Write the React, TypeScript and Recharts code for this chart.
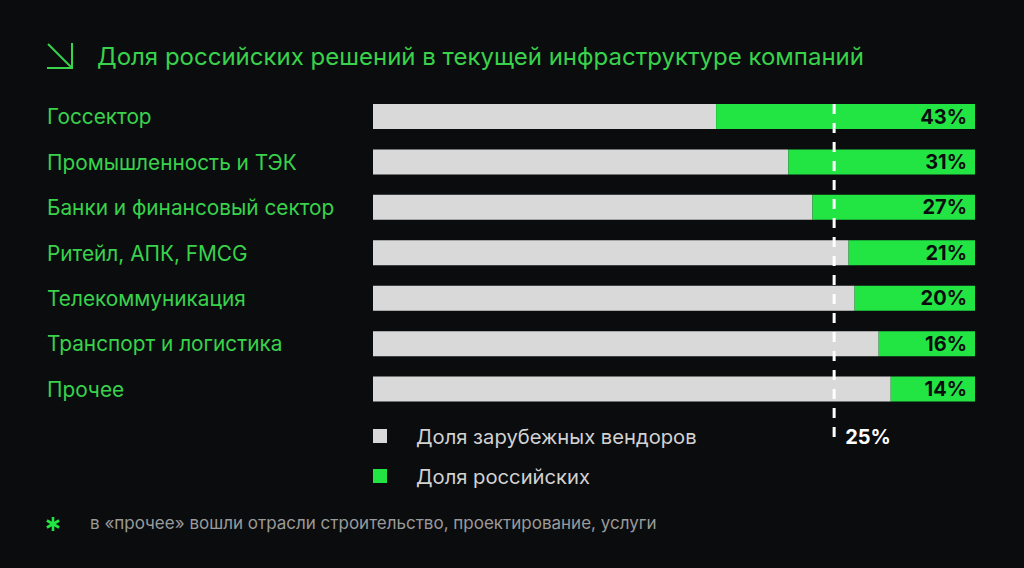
import { Bar, BarChart, LabelList, Legend, ReferenceLine, XAxis, YAxis } from "recharts";

const categories = [
  "Госсектор",
  "Промышленность и ТЭК",
  "Банки и финансовый сектор",
  "Ритейл, АПК, FMCG",
  "Телекоммуникация",
  "Транспорт и логистика",
  "Прочее",
];
const russianShare = [43, 31, 27, 21, 20, 16, 14];
const foreignShare = [57, 69, 73, 79, 80, 84, 86];

const seriesNames = ["Доля зарубежных вендоров", "Доля российских"];
const benchmarkLabel = "25%";
// where the dashed line sits on the foreign-share axis
const benchmarkPos = 76.6;

const title = "Доля российских решений в текущей инфраструктуре компаний";
const footnote = "в «прочее» вошли отрасли строительство, проектирование, услуги";

const BG = "#0b0c0e";
const GREY = "#d9d9d9";
const GREEN = "#22e544";
const TEXT_GREEN = "#39d24b";
const FONT = "Inter, 'Noto Sans', sans-serif";

const data = categories.map((name, i) => ({
  name,
  foreign: foreignShare[i],
  russian: russianShare[i],
}));

function CategoryTick({ y, payload }: { y?: number; payload?: { value: string } }) {
  return (
    <text x={47} y={y} dominantBaseline="central" fill={TEXT_GREEN} fontSize={20.8} fontFamily={FONT}>
      {payload?.value}
    </text>
  );
}

function BenchmarkLine(props: { x1?: number; y1?: number; x2?: number; y2?: number }) {
  const { x1 = 0, y1 = 0, y2 = 0 } = props;
  const top = Math.min(y1, y2);
  const bottom = Math.max(y1, y2);
  return (
    <g>
      <line x1={x1} x2={x1} y1={top + 10} y2={bottom + 31} stroke="#ffffff" strokeWidth={3} strokeDasharray="10 9" />
      <text x={x1 + 11} y={bottom + 25} dominantBaseline="central" fill="#ffffff" fontSize={20} fontWeight={700} fontFamily={FONT}>
        {benchmarkLabel}
      </text>
    </g>
  );
}

function LegendBox() {
  const colors = [GREY, GREEN];
  return (
    <div style={{ fontFamily: FONT }}>
      {seriesNames.map((s, i) => (
        <div key={s} style={{ display: "flex", alignItems: "center", height: 40 }}>
          <span style={{ width: 14, height: 14, background: colors[i], display: "inline-block" }} />
          <span style={{ marginLeft: 29, color: "#d2d2d2", fontSize: 20.2 }}>{s}</span>
        </div>
      ))}
    </div>
  );
}

export default function App() {
  return (
    <div style={{ position: "absolute", left: 0, top: 0, width: 1024, height: 568, background: BG, fontFamily: FONT }}>
      <svg width={32} height={32} style={{ position: "absolute", left: 44, top: 40 }}>
        <path d="M4 4 L27 27 M28 3 L28 28 L3 28" stroke={TEXT_GREEN} strokeWidth={2} fill="none" />
      </svg>
      <div style={{ position: "absolute", left: 97, top: 40, color: TEXT_GREEN, fontSize: 24, lineHeight: "34px" }}>
        {title}
      </div>
      <BarChart
        width={1024}
        height={568}
        data={data}
        layout="vertical"
        barSize={25}
        margin={{ top: 94, right: 49, bottom: 76, left: 47 }}
      >
        <XAxis type="number" domain={[0, 100]} hide />
        <YAxis type="category" dataKey="name" width={326} axisLine={false} tickLine={false} tick={<CategoryTick />} />
        <Bar dataKey="foreign" name={seriesNames[0]} stackId="a" fill={GREY} isAnimationActive={false} />
        <Bar dataKey="russian" name={seriesNames[1]} stackId="a" fill={GREEN} isAnimationActive={false}>
          <LabelList
            dataKey="russian"
            position="insideRight"
            offset={8}
            formatter={(v: number) => `${v}%`}
            fill="#0b0c0e"
            fontSize={20}
            fontWeight={700}
            fontFamily={FONT}
          />
        </Bar>
        <ReferenceLine x={benchmarkPos} shape={<BenchmarkLine />} />
        <Legend content={<LegendBox />} wrapperStyle={{ left: 373, top: 416, width: 400 }} />
      </BarChart>
      <svg width={18} height={18} style={{ position: "absolute", left: 44, top: 515 }}>
        <g stroke={GREEN} strokeWidth={2.6} strokeLinecap="butt">
          <line x1={9} y1={2} x2={9} y2={16} />
          <line x1={2.9} y1={5.5} x2={15.1} y2={12.5} />
          <line x1={2.9} y1={12.5} x2={15.1} y2={5.5} />
        </g>
      </svg>
      <div style={{ position: "absolute", left: 90, top: 512, color: "#9a9a9a", fontSize: 17, lineHeight: "22px" }}>
        {footnote}
      </div>
    </div>
  );
}
